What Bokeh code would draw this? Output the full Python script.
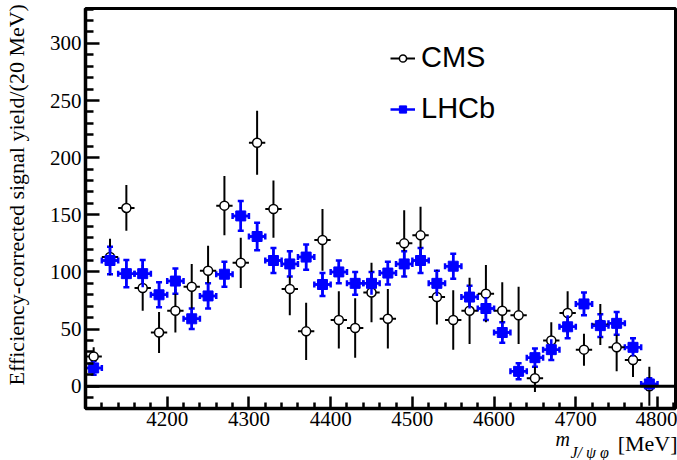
import numpy as np
from bokeh.plotting import figure
from bokeh.models import (ColumnDataSource, Range1d, Span, Legend, LegendItem,
                          Whisker, TeeHead, FixedTicker, Title)
from bokeh.embed import file_html
from bokeh.resources import INLINE

# ---- data ----
mass_bins = [4110, 4130, 4150, 4170, 4190, 4210, 4230, 4250, 4270, 4290,
             4310, 4330, 4350, 4370, 4390, 4410, 4430, 4450, 4470, 4490,
             4510, 4530, 4550, 4570, 4590, 4610, 4630, 4650, 4670, 4690,
             4710, 4730, 4750, 4770, 4790]
bin_half_width = 10

cms_yield = [26, 113, 156, 86, 47, 66, 87, 101, 158, 108,
             213, 155, 85, 48, 128, 58, 51, 82, 59, 125,
             132, 78, 58, 66, 81, 66, 62, 7, 40, 64,
             32, 54, 34, 23, 0]
cms_err = [8, 16, 20, 20, 18, 19, 20, 22, 26, 22,
           28, 25, 23, 25, 27, 25, 26, 26, 26, 29,
           25, 24, 26, 29, 25, 25, 25, 12, 16, 19,
           14, 18, 21, 15, 17]

lhcb_yield = [16, 110, 98.5, 98.5, 80, 92, 59, 79, 98, 149,
              131, 110, 107, 113, 89, 100, 90, 90, 99, 107,
              110, 90, 105, 78, 68, 47, 13, 25, 32, 52,
              72, 53, 55, 34, 2]
lhcb_err = [6, 12, 12, 12, 11, 11, 9, 11, 11, 13,
            12, 11, 11, 11, 10, 10, 10, 10, 10, 11,
            11, 11, 11, 10, 10, 9, 7, 8, 9, 10,
            10, 10, 10, 8, 5]

x_major_ticks = [4200, 4300, 4400, 4500, 4600, 4700, 4800]
x_minor_ticks = [4120, 4140, 4160, 4180, 4220, 4240, 4260, 4280, 4320, 4340, 4360, 4380,
                 4420, 4440, 4460, 4480, 4520, 4540, 4560, 4580, 4620, 4640, 4660, 4680,
                 4720, 4740, 4760, 4780, 4820]
y_major_ticks = [0, 50, 100, 150, 200, 250, 300]
y_minor_ticks = [-10, 10, 20, 30, 40, 60, 70, 80, 90, 110, 120, 130, 140, 160, 170, 180, 190,
                 210, 220, 230, 240, 260, 270, 280, 290, 310, 320, 330]

y_title = "Efficiency-corrected signal yield/(20 MeV)"
x_title_var = "m"
x_title_sub = "J/ ψ φ"
x_title_unit = "[MeV]"


def make_source(x, y, e):
    x = np.array(x, dtype=float)
    y = np.array(y, dtype=float)
    e = np.array(e, dtype=float)
    return ColumnDataSource(dict(x=x, y=y, lo=y - e, hi=y + e,
                                 x0=x - bin_half_width, x1=x + bin_half_width))


cms_src = make_source(mass_bins, cms_yield, cms_err)
lhcb_src = make_source(mass_bins, lhcb_yield, lhcb_err)

p = figure(width=677, height=460, output_backend="svg", toolbar_location=None,
           x_range=Range1d(4100, 4822), y_range=Range1d(-19.5, 330.5),
           min_border_left=85, min_border_right=2, min_border_top=8, min_border_bottom=52)
p.background_fill_color = "white"
p.border_fill_color = "white"
p.xgrid.visible = False
p.ygrid.visible = False
p.outline_line_color = "black"
p.outline_line_width = 3
p.outline_line_alpha = 1.0

# zero line
p.add_layout(Span(location=0, dimension="width", line_color="black", line_width=3))

# CMS
cms_h = p.segment(x0="x0", y0="y", x1="x1", y1="y", source=cms_src,
                  line_color="black", line_width=2)
cms_v = p.segment(x0="x", y0="lo", x1="x", y1="hi", source=cms_src,
                  line_color="black", line_width=2)
cms_m = p.scatter("x", "y", source=cms_src, marker="circle", size=9,
                  fill_color="white", line_color="black", line_width=1.5)

# LHCb
blue = "#0000ff"
lhcb_h = p.segment(x0="x0", y0="y", x1="x1", y1="y", source=lhcb_src,
                   line_color=blue, line_width=2.5)
lhcb_v = p.segment(x0="x", y0="lo", x1="x", y1="hi", source=lhcb_src,
                   line_color=blue, line_width=2.5)
p.add_layout(Whisker(base="x", lower="lo", upper="hi", dimension="height", source=lhcb_src,
                     line_color=blue, line_width=2.5,
                     upper_head=TeeHead(size=6, line_color=blue, line_width=2.5),
                     lower_head=TeeHead(size=6, line_color=blue, line_width=2.5)))
p.add_layout(Whisker(base="y", lower="x0", upper="x1", dimension="width", source=lhcb_src,
                     line_color=blue, line_width=2.5,
                     upper_head=TeeHead(size=6, line_color=blue, line_width=2.5),
                     lower_head=TeeHead(size=6, line_color=blue, line_width=2.5)))
lhcb_m = p.scatter("x", "y", source=lhcb_src, marker="square", size=10,
                   fill_color=blue, line_color=blue, line_width=1)

# axes
for ax in (p.xaxis[0], p.yaxis[0]):
    ax.axis_line_width = 3.5
    ax.axis_line_color = "black"
    ax.major_tick_line_width = 2.5
    ax.minor_tick_line_width = 2.5
    ax.major_tick_line_color = "black"
    ax.minor_tick_line_color = "black"
    ax.major_tick_out = 0
    ax.minor_tick_out = 0
    ax.major_label_text_font = "Liberation Serif"
    ax.major_label_text_font_size = "21px"
    ax.major_label_text_color = "black"

p.xaxis.ticker = FixedTicker(ticks=x_major_ticks, minor_ticks=x_minor_ticks)
p.yaxis.ticker = FixedTicker(ticks=y_major_ticks, minor_ticks=y_minor_ticks)
p.xaxis.major_tick_in = 12
p.xaxis.minor_tick_in = 6
p.yaxis.major_tick_in = 14
p.yaxis.minor_tick_in = 8
p.xaxis.major_label_standoff = 3
p.yaxis.major_label_standoff = 4

# y axis title (shifted toward the top end like ROOT)
p.yaxis.axis_label = "\u00a0" * 5 + y_title
p.yaxis.axis_label_text_font = "Liberation Serif"
p.yaxis.axis_label_text_font_style = "normal"
p.yaxis.axis_label_text_font_size = "22px"
p.yaxis.axis_label_text_color = "black"
p.yaxis.axis_label_standoff = 18

# small spacer under the x tick labels
p.xaxis.axis_label = " "
p.xaxis.axis_label_text_font_size = "1px"
p.xaxis.axis_label_standoff = 5

# x axis title pieces (near-zero-height rows in the bottom panel)
p.add_layout(Title(text=x_title_var, align="left", offset=470, vertical_align="middle",
                   standoff=-21, text_font="Liberation Serif", text_font_style="italic",
                   text_font_size="20px", text_color="black"), "below")
p.add_layout(Title(text=x_title_unit, align="right", offset=-2, vertical_align="middle",
                   standoff=-21, text_font="Liberation Serif", text_font_style="normal",
                   text_font_size="22px", text_color="black"), "below")
p.add_layout(Title(text=x_title_sub, align="left", offset=485, vertical_align="middle",
                   standoff=-7, text_font="Liberation Serif", text_font_style="italic",
                   text_font_size="16px", text_color="black"), "below")

legend = Legend(items=[LegendItem(label="CMS", renderers=[cms_h, cms_m]),
                       LegendItem(label="LHCb", renderers=[lhcb_h, lhcb_m])],
                location=(305, 283), padding=0, margin=0, spacing=18,
                glyph_width=25, glyph_height=18, label_height=30, label_standoff=6,
                label_text_font="Liberation Sans", label_text_font_size="29px",
                label_text_color="black",
                background_fill_alpha=0, border_line_alpha=0)
p.add_layout(legend)

open("out.html", "w").write(file_html(p, INLINE))
